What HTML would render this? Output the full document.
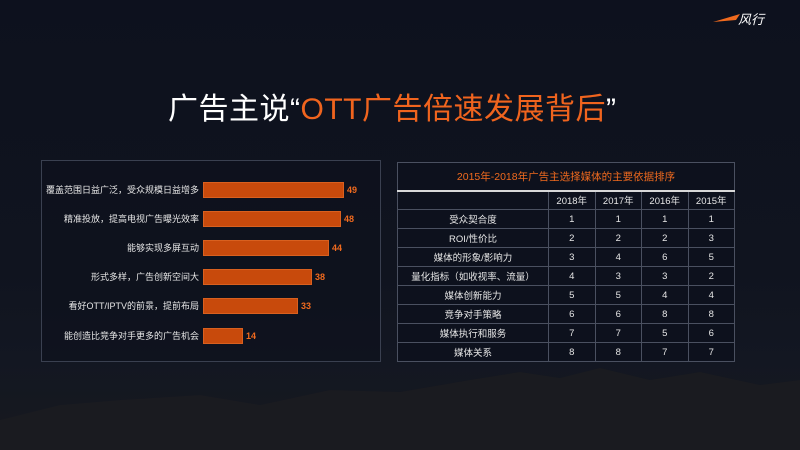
<!DOCTYPE html>
<html><head><meta charset="utf-8"><style>
*{margin:0;padding:0;box-sizing:border-box}
body{width:800px;height:450px;overflow:hidden;background:#0d111d;font-family:"Liberation Sans","Noto Sans CJK SC",sans-serif;position:relative}
.bg{position:absolute;inset:0;background:linear-gradient(#0d111e 0%,#10141f 60%,#131722 80%,#17191e 100%)}
.mt{position:absolute;left:0;top:0}
.title{position:absolute;left:168px;top:84px;font-size:30px;color:#fff;white-space:nowrap;letter-spacing:0.5px}
.title span{color:#f0641e}
.lp{position:absolute;left:41px;top:160px;width:340px;height:202px;border:1px solid #3a4050;background:rgba(13,17,29,0.6)}
.lab{position:absolute;text-align:right;font-size:9px;color:#e6e6e6;line-height:16px;white-space:nowrap}
.bar{position:absolute;left:203px;height:16px;background:#c84a0c;border:1px solid #d9601f}
.val{position:absolute;font-size:9px;font-weight:bold;color:#f06a1e;line-height:16px}
table{position:absolute;left:397px;top:162px;width:338px;border-collapse:collapse;font-size:9.5px;color:#e6e6e6;background:#0d111d}
td{border:1px solid #4a5060;text-align:center;height:19px;padding:0}
.th{height:28px;color:#f06a1e;font-size:10.5px;border-bottom:2px solid #d8d8d8}
</style></head><body>
<div class="bg"></div>
<svg class="mt" width="800" height="450"><path d="M0 420 L60 405 L120 400 L200 395 L260 405 L330 390 L400 392 L470 380 L520 372 L560 378 L600 368 L650 380 L700 372 L760 385 L800 380 L800 450 L0 450Z" fill="#1a1b20"/>
<path d="M713 22 L740 14 L736 20 Z" fill="#f06a1e"/><text x="738" y="24" fill="#fff" font-size="13" font-style="italic" font-family="Noto Sans CJK SC,sans-serif">风行</text></svg>
<div class="title">广告主说“<span>OTT广告倍速发展背后</span>”</div>
<div class="lp"></div>
<div style="position:absolute;left:0;top:0">
<div class="lab" style="top:182px;left:0;width:199px">覆盖范围日益广泛，受众规模日益增多</div><div class="bar" style="top:182px;width:141px"></div><div class="val" style="left:347px;top:182px">49</div>
<div class="lab" style="top:211px;left:0;width:199px">精准投放，提高电视广告曝光效率</div><div class="bar" style="top:211px;width:138px"></div><div class="val" style="left:344px;top:211px">48</div>
<div class="lab" style="top:240px;left:0;width:199px">能够实现多屏互动</div><div class="bar" style="top:240px;width:126px"></div><div class="val" style="left:332px;top:240px">44</div>
<div class="lab" style="top:269px;left:0;width:199px">形式多样，广告创新空间大</div><div class="bar" style="top:269px;width:109px"></div><div class="val" style="left:315px;top:269px">38</div>
<div class="lab" style="top:298px;left:0;width:199px">看好OTT/IPTV的前景，提前布局</div><div class="bar" style="top:298px;width:95px"></div><div class="val" style="left:301px;top:298px">33</div>
<div class="lab" style="top:328px;left:0;width:199px">能创造比竞争对手更多的广告机会</div><div class="bar" style="top:328px;width:40px"></div><div class="val" style="left:246px;top:328px">14</div>
</div>
<table>
<tr><td class="th" colspan="5">2015年-2018年广告主选择媒体的主要依据排序</td></tr>
<tr><td style="width:151px"></td><td>2018年</td><td>2017年</td><td>2016年</td><td>2015年</td></tr>
<tr><td>受众契合度</td><td>1</td><td>1</td><td>1</td><td>1</td></tr>
<tr><td>ROI/性价比</td><td>2</td><td>2</td><td>2</td><td>3</td></tr>
<tr><td>媒体的形象/影响力</td><td>3</td><td>4</td><td>6</td><td>5</td></tr>
<tr><td>量化指标（如收视率、流量）</td><td>4</td><td>3</td><td>3</td><td>2</td></tr>
<tr><td>媒体创新能力</td><td>5</td><td>5</td><td>4</td><td>4</td></tr>
<tr><td>竞争对手策略</td><td>6</td><td>6</td><td>8</td><td>8</td></tr>
<tr><td>媒体执行和服务</td><td>7</td><td>7</td><td>5</td><td>6</td></tr>
<tr><td>媒体关系</td><td>8</td><td>8</td><td>7</td><td>7</td></tr>
</table>
</body></html>
